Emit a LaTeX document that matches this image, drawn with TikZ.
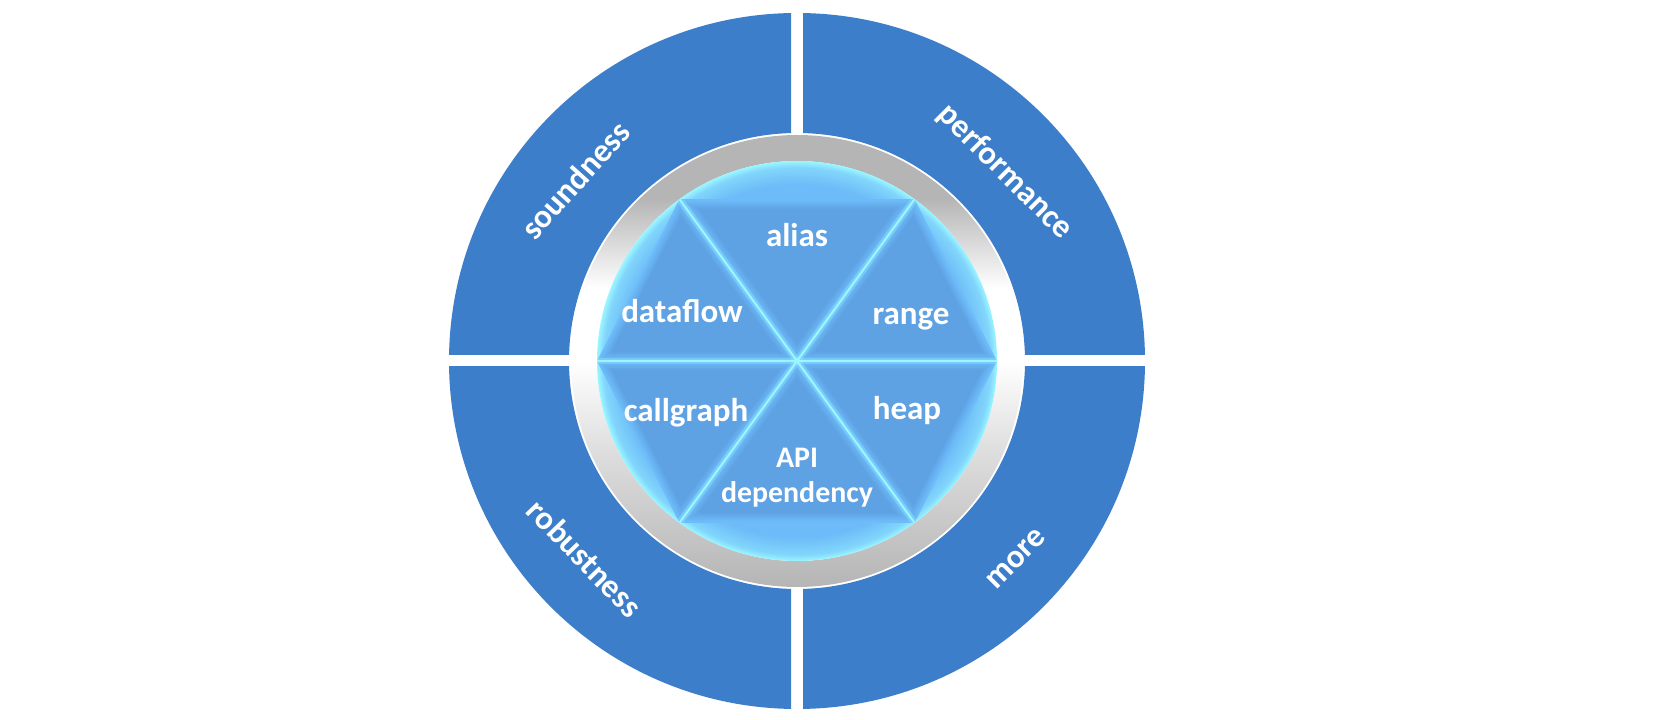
\documentclass[tikz,border=0pt]{standalone}
\usepackage{fontspec}
\setmainfont{Carlito}
\usetikzlibrary{calc}

\definecolor{quadblue}{HTML}{3C7ECA}
\definecolor{ringgray}{HTML}{B5B5B5}
\colorlet{ringlight}{ringgray!45!white}
\definecolor{facetblue}{HTML}{5EA2E4}
\definecolor{edgeblue}{HTML}{6DBBF8}
\definecolor{glowcyan}{HTML}{9AF6FF}
\colorlet{rimblue}{glowcyan!45!edgeblue}

\pgfdeclareverticalshading{ringshade}{100bp}{color(0bp)=(ringgray); color(25bp)=(ringgray); color(40bp)=(ringlight); color(50bp)=(white); color(58bp)=(white); color(68bp)=(ringgray); color(100bp)=(ringgray)}
\pgfdeclareradialshading{diskglow}{\pgfpoint{0bp}{0bp}}{color(0bp)=(edgeblue); color(22bp)=(edgeblue); color(24.2bp)=(rimblue); color(25bp)=(glowcyan); color(50bp)=(glowcyan)}

\tikzstyle{quad} = [fill=quadblue]
\tikzstyle{inlabel} = [text=white, font=\fontsize{24.75}{29}\selectfont\bfseries, anchor=base, inner sep=0pt]
\tikzstyle{outlabel} = [text=white, font=\fontsize{24.75}{29}\selectfont\bfseries, inner sep=0pt]
\tikzstyle{spoke} = [draw=glowcyan, line width=1.5pt]
\tikzstyle{spokeglow} = [draw=glowcyan, line width=5pt, opacity=0.3]

\begin{document}
\begin{tikzpicture}[x=0.75pt, y=0.75pt]
    \useasboundingbox (0,0) rectangle (1666,720);
    \coordinate (o) at (797,359);

    % outer quadrants
    \foreach \sx/\sy in {-1/1, 1/1, -1/-1, 1/-1} {
        \begin{scope}
            \clip ($(o)+(6*\sx,6*\sy)$) rectangle ++(400*\sx,400*\sy);
            \fill[quad, even odd rule] (o) circle[radius=348] (o) circle[radius=228];
        \end{scope}
    }

    % gray ring and disk
    \shade[shading=ringshade, even odd rule] (o) circle[radius=226] (o) circle[radius=200];
    \shade[shading=diskglow] (o) circle[radius=200];

    \foreach \a in {0,54,126,180,234,306,360}
        \coordinate (v\a) at ($(o)+(\a:200)$);

    % facets
    \foreach \a/\b/\d in {0/54/122.5, 54/126/101.9, 126/180/122.5, 180/234/122.5, 234/306/101.9, 306/360/122.5} {
        \coordinate (c\a) at ($(o)+({(\a+\b)/2}:\d)$);
        \foreach \s/\m in {1/100, 0.96/80, 0.93/60, 0.9/40, 0.87/20, 0.84/0}
            \fill[edgeblue!\m!facetblue] ($(c\a)!\s!(o)$) -- ($(c\a)!\s!(v\a)$) -- ($(c\a)!\s!(v\b)$) -- cycle;
    }

    \foreach \a in {0,54,126,180,234,306} {
        \draw[spokeglow] (o) -- (v\a);
        \draw[spoke] (o) -- (v\a);
    }

    \node[inlabel] (alias) at ($(o)+(0,114)$) {alias};
    \node[inlabel] (dataflow) at ($(o)+(-115,38)$) {dataflow};
    \node[inlabel] (range) at ($(o)+(114,36)$) {range};
    \node[inlabel] (callgraph) at ($(o)+(-111,-61)$) {callgraph};
    \node[inlabel] (heap) at ($(o)+(110,-59)$) {heap};
    \node[inlabel, font=\fontsize{22.4}{27}\selectfont\bfseries] (api) at ($(o)+(0,-107)$) {API};
    \node[inlabel, font=\fontsize{22.4}{27}\selectfont\bfseries] (dependency) at ($(o)+(0,-142)$) {dependency};

    \node[outlabel, rotate=48] (soundness) at ($(o)+(-222,181)$) {soundness};
    \node[outlabel, rotate=-45] (performance) at ($(o)+(208,189)$) {performance};
    \node[outlabel, rotate=-46] (robustness) at ($(o)+(-212,-197)$) {robustness};
    \node[outlabel, rotate=45] (more) at ($(o)+(219,-198)$) {more};
\end{tikzpicture}
\end{document}
